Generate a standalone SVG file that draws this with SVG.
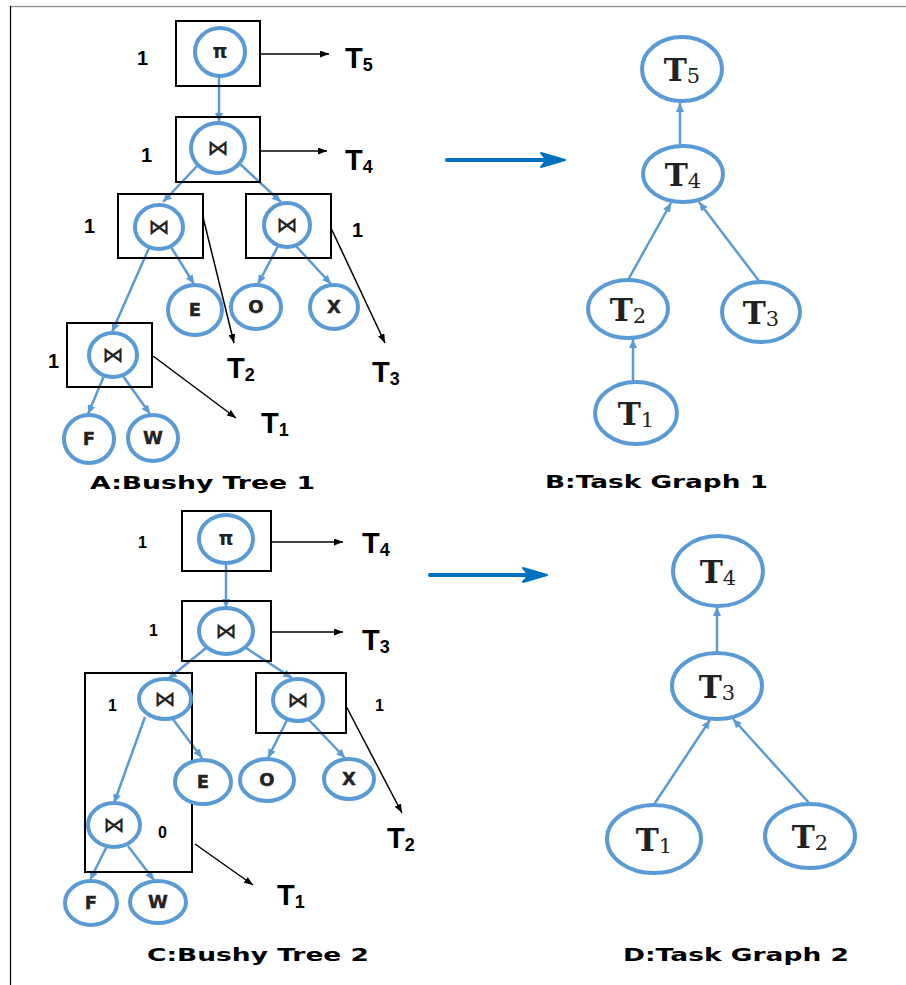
<svg xmlns="http://www.w3.org/2000/svg" width="906" height="985" viewBox="0 0 906 985">
  <defs>
    <style>
      .box { fill: none; stroke: #000; stroke-width: 2; }
      .op { fill: #fff; stroke: #5B9BD5; stroke-width: 4; }
      .tk { fill: #fff; stroke: #5B9BD5; stroke-width: 4; }
      .edge { stroke: #5B9BD5; stroke-width: 2.5; fill: none; marker-end: url(#blueHead); }
      .out { stroke: #000; stroke-width: 1.5; fill: none; marker-end: url(#blackHead); }
      .big { stroke: #0070C0; stroke-width: 4; stroke-linecap: round; fill: none; }
      .sym { font-family: "DejaVu Sans", sans-serif; font-size: 21px; fill: #222; stroke: #222; stroke-width: 0.4; text-anchor: middle; }
      .pi { font-family: "DejaVu Sans", sans-serif; font-weight: bold; font-size: 19px; fill: #222; text-anchor: middle; }
      .rel { font-family: "DejaVu Sans", sans-serif; font-weight: bold; font-size: 18px; fill: #222; stroke: #222; stroke-width: 0.4; text-anchor: middle; }
      .num { font-family: "Liberation Sans", Arial, sans-serif; font-weight: bold; font-size: 20px; fill: #000; }
      .num2 { font-family: "Liberation Sans", Arial, sans-serif; font-weight: bold; font-size: 16px; fill: #000; }
      .tl { font-family: "Liberation Sans", Arial, sans-serif; font-weight: bold; font-size: 29px; fill: #000; }
      .tl .sub { font-size: 18px; }
      .tg { font-family: "DejaVu Serif", "Liberation Serif", serif; font-weight: bold; font-size: 31px; fill: #222; text-anchor: middle; }
      .tg .sub { font-weight: normal; font-size: 21px; }
      .cap { font-family: "DejaVu Sans", sans-serif; font-weight: bold; font-size: 17px; fill: #000; }
    </style>
    <marker id="blueHead" markerUnits="userSpaceOnUse" markerWidth="9" markerHeight="8" refX="9" refY="4" orient="auto">
      <path d="M0,0 L9,4 L0,8 z" fill="#5B9BD5"/>
    </marker>
    <marker id="blackHead" markerUnits="userSpaceOnUse" markerWidth="9" markerHeight="7" refX="9" refY="3.5" orient="auto">
      <path d="M0,0 L9,3.5 L0,7 z" fill="#000"/>
    </marker>
  </defs>

  <rect width="906" height="985" fill="#fff"/>
  <!-- frame -->
  <line x1="10" y1="6.5" x2="906" y2="6.5" stroke="#999" stroke-width="1.5"/>
  <line x1="10.5" y1="6" x2="10.5" y2="985" stroke="#000" stroke-width="1.2"/>

  <!-- connectors -->
  <g id="connectors">
    <!-- A: Bushy Tree 1 -->
    <line class="edge" x1="219" y1="77" x2="219" y2="122"/>
    <line class="edge" x1="198" y1="165" x2="163" y2="202"/>
    <line class="edge" x1="240" y1="164" x2="281" y2="202"/>
    <line class="edge" x1="149" y1="248" x2="112" y2="332"/>
    <line class="edge" x1="171" y1="247" x2="194" y2="284"/>
    <line class="edge" x1="278" y1="246" x2="258" y2="284"/>
    <line class="edge" x1="296" y1="246" x2="331" y2="284"/>
    <line class="edge" x1="104" y1="376" x2="88" y2="414"/>
    <line class="edge" x1="123" y1="376" x2="150" y2="414"/>
    <line class="out" x1="260" y1="54" x2="329" y2="54"/>
    <line class="out" x1="260" y1="151" x2="327" y2="151"/>
    <line class="out" x1="203" y1="217" x2="234" y2="343"/>
    <line class="out" x1="331" y1="228" x2="385" y2="343"/>
    <line class="out" x1="153" y1="356" x2="236" y2="418"/>

    <!-- B: Task Graph 1 -->
    <line class="edge" x1="680" y1="146" x2="680" y2="103"/>
    <line class="edge" x1="628" y1="280" x2="671" y2="203"/>
    <line class="edge" x1="759" y1="281" x2="699" y2="202"/>
    <line class="edge" x1="633" y1="382" x2="633" y2="339"/>

    <!-- C: Bushy Tree 2 -->
    <line class="edge" x1="226" y1="563" x2="226" y2="608"/>
    <line class="edge" x1="206" y1="648" x2="168" y2="679"/>
    <line class="edge" x1="246" y1="648" x2="292" y2="678"/>
    <line class="edge" x1="145" y1="717" x2="114" y2="803"/>
    <line class="edge" x1="172" y1="718" x2="202" y2="758"/>
    <line class="edge" x1="287" y1="720" x2="268" y2="758"/>
    <line class="edge" x1="309" y1="720" x2="345" y2="758"/>
    <line class="edge" x1="107" y1="846" x2="90" y2="880"/>
    <line class="edge" x1="128" y1="846" x2="154" y2="880"/>
    <line class="out" x1="271" y1="542" x2="343" y2="542"/>
    <line class="out" x1="271" y1="632" x2="343" y2="632"/>
    <line class="out" x1="346" y1="706" x2="402" y2="813"/>
    <line class="out" x1="195" y1="844" x2="253" y2="885"/>

    <!-- D: Task Graph 2 -->
    <line class="edge" x1="717" y1="653" x2="717" y2="607"/>
    <line class="edge" x1="653" y1="806" x2="710" y2="720"/>
    <line class="edge" x1="810" y1="804" x2="733" y2="719"/>

    <!-- transformation arrows -->
    <line class="big" x1="447" y1="160" x2="558" y2="160"/>
    <path d="M541,153 L565,160 L541,167 L547,160 z" fill="#0070C0" stroke="#0070C0" stroke-width="2" stroke-linejoin="round"/>
    <line class="big" x1="430" y1="575" x2="540" y2="575"/>
    <path d="M523,568 L547,575 L523,582 L529,575 z" fill="#0070C0" stroke="#0070C0" stroke-width="2" stroke-linejoin="round"/>
  </g>

  <!-- A: Bushy Tree 1 -->
  <g id="a-proj">
    <rect class="box" x="176" y="21" width="84" height="65"/>
    <ellipse class="op" cx="220" cy="52" rx="25" ry="24"/>
    <text class="pi" x="220" y="58">π</text>
    <text class="num" x="137" y="65">1</text>
  </g>
  <g id="a-join1">
    <rect class="box" x="176" y="117" width="84" height="65"/>
    <ellipse class="op" cx="218" cy="148" rx="27" ry="25"/>
    <text class="sym" x="218" y="155">⋈</text>
    <text class="num" x="141" y="162">1</text>
  </g>
  <g id="a-join2">
    <rect class="box" x="118" y="194" width="85" height="64"/>
    <ellipse class="op" cx="159" cy="227" rx="24" ry="22"/>
    <text class="sym" x="159" y="234">⋈</text>
    <text class="num" x="84" y="233">1</text>
  </g>
  <g id="a-join3">
    <rect class="box" x="246" y="194" width="85" height="64"/>
    <ellipse class="op" cx="287" cy="225" rx="23" ry="22"/>
    <text class="sym" x="287" y="232">⋈</text>
    <text class="num" x="352" y="237">1</text>
  </g>
  <g id="a-join4">
    <rect class="box" x="67" y="323" width="85" height="64"/>
    <ellipse class="op" cx="113" cy="355" rx="24" ry="22"/>
    <text class="sym" x="113" y="362">⋈</text>
    <text class="num" x="48" y="368">1</text>
  </g>
  <g id="a-E"><ellipse class="op" cx="195" cy="310" rx="27" ry="25"/><text class="rel" x="195" y="316">E</text></g>
  <g id="a-O"><ellipse class="op" cx="256" cy="307" rx="25" ry="22"/><text class="rel" x="256" y="313">O</text></g>
  <g id="a-X"><ellipse class="op" cx="334" cy="307" rx="24" ry="22"/><text class="rel" x="334" y="313">X</text></g>
  <g id="a-F"><ellipse class="op" cx="89" cy="439" rx="25" ry="24"/><text class="rel" x="89" y="445">F</text></g>
  <g id="a-W"><ellipse class="op" cx="153" cy="438" rx="25" ry="23"/><text class="rel" x="153" y="444">W</text></g>
  <g id="a-labels">
    <text class="tl" x="345" y="68">T<tspan class="sub" dy="3">5</tspan></text>
    <text class="tl" x="345" y="170">T<tspan class="sub" dy="3">4</tspan></text>
    <text class="tl" x="227" y="378">T<tspan class="sub" dy="3">2</tspan></text>
    <text class="tl" x="372" y="382">T<tspan class="sub" dy="3">3</tspan></text>
    <text class="tl" x="261" y="433">T<tspan class="sub" dy="3">1</tspan></text>
    <text class="cap" x="90" y="489" textLength="225" lengthAdjust="spacingAndGlyphs">A:Bushy Tree 1</text>
  </g>

  <!-- B: Task Graph 1 -->
  <g id="b-T5"><ellipse class="tk" cx="682" cy="69" rx="40" ry="32"/><text class="tg" x="682" y="81">T<tspan class="sub" dy="2">5</tspan></text></g>
  <g id="b-T4"><ellipse class="tk" cx="683" cy="174" rx="40" ry="28"/><text class="tg" x="683" y="186">T<tspan class="sub" dy="2">4</tspan></text></g>
  <g id="b-T2"><ellipse class="tk" cx="628" cy="309" rx="40" ry="29"/><text class="tg" x="628" y="321">T<tspan class="sub" dy="2">2</tspan></text></g>
  <g id="b-T3"><ellipse class="tk" cx="761" cy="312" rx="39" ry="30"/><text class="tg" x="761" y="324">T<tspan class="sub" dy="2">3</tspan></text></g>
  <g id="b-T1"><ellipse class="tk" cx="636" cy="413" rx="41" ry="31"/><text class="tg" x="636" y="425">T<tspan class="sub" dy="2">1</tspan></text></g>
  <text class="cap" x="545" y="488" textLength="223" lengthAdjust="spacingAndGlyphs">B:Task Graph 1</text>

  <!-- C: Bushy Tree 2 -->
  <g id="c-proj">
    <rect class="box" x="182" y="511" width="89" height="60"/>
    <ellipse class="op" cx="226" cy="539" rx="27" ry="24"/>
    <text class="pi" x="226" y="545">π</text>
    <text class="num2" x="138" y="548">1</text>
  </g>
  <g id="c-join1">
    <rect class="box" x="182" y="601" width="89" height="60"/>
    <ellipse class="op" cx="226" cy="631" rx="27" ry="23"/>
    <text class="sym" x="226" y="638">⋈</text>
    <text class="num2" x="149" y="636">1</text>
  </g>
  <g id="c-join2">
    <rect class="box" x="85" y="673" width="107" height="199"/>
    <ellipse class="op" cx="165" cy="699" rx="26" ry="20"/>
    <text class="sym" x="165" y="706">⋈</text>
    <text class="num2" x="108" y="711">1</text>
  </g>
  <g id="c-join3">
    <rect class="box" x="256" y="673" width="90" height="60"/>
    <ellipse class="op" cx="298" cy="700" rx="25" ry="21"/>
    <text class="sym" x="298" y="707">⋈</text>
    <text class="num2" x="375" y="711">1</text>
  </g>
  <g id="c-join4">
    <ellipse class="op" cx="114" cy="825" rx="26" ry="22"/>
    <text class="sym" x="114" y="832">⋈</text>
    <text class="num2" x="158" y="838">0</text>
  </g>
  <g id="c-E"><ellipse class="op" cx="203" cy="782" rx="28" ry="22"/><text class="rel" x="203" y="788">E</text></g>
  <g id="c-O"><ellipse class="op" cx="267" cy="780" rx="27" ry="21"/><text class="rel" x="267" y="786">O</text></g>
  <g id="c-X"><ellipse class="op" cx="349" cy="779" rx="25" ry="20"/><text class="rel" x="349" y="785">X</text></g>
  <g id="c-F"><ellipse class="op" cx="91" cy="903" rx="26" ry="22"/><text class="rel" x="91" y="909">F</text></g>
  <g id="c-W"><ellipse class="op" cx="158" cy="902" rx="28" ry="21"/><text class="rel" x="158" y="908">W</text></g>
  <g id="c-labels">
    <text class="tl" x="362" y="553">T<tspan class="sub" dy="3">4</tspan></text>
    <text class="tl" x="362" y="650">T<tspan class="sub" dy="3">3</tspan></text>
    <text class="tl" x="387" y="848">T<tspan class="sub" dy="3">2</tspan></text>
    <text class="tl" x="277" y="905">T<tspan class="sub" dy="3">1</tspan></text>
    <text class="cap" x="147" y="961" textLength="222" lengthAdjust="spacingAndGlyphs">C:Bushy Tree 2</text>
  </g>

  <!-- D: Task Graph 2 -->
  <g id="d-T4"><ellipse class="tk" cx="718" cy="571" rx="45" ry="35"/><text class="tg" x="718" y="583">T<tspan class="sub" dy="2">4</tspan></text></g>
  <g id="d-T3"><ellipse class="tk" cx="717" cy="686" rx="45" ry="33"/><text class="tg" x="717" y="698">T<tspan class="sub" dy="2">3</tspan></text></g>
  <g id="d-T1"><ellipse class="tk" cx="654" cy="839" rx="47" ry="34"/><text class="tg" x="654" y="851">T<tspan class="sub" dy="2">1</tspan></text></g>
  <g id="d-T2"><ellipse class="tk" cx="810" cy="836" rx="45" ry="32"/><text class="tg" x="810" y="848">T<tspan class="sub" dy="2">2</tspan></text></g>
  <text class="cap" x="623" y="961" textLength="226" lengthAdjust="spacingAndGlyphs">D:Task Graph 2</text>
</svg>
